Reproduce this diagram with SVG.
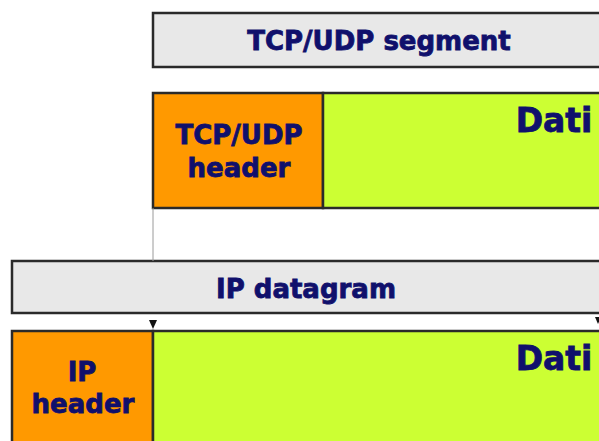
<svg xmlns="http://www.w3.org/2000/svg" width="599" height="441" viewBox="0 0 599 441">
  <defs>
    <style>
      .bar { fill: #e8e8e8; stroke: #2a2a2a; stroke-width: 2.5; }
      .hdr { fill: #ff9900; stroke: #2a2a2a; stroke-width: 2.5; }
      .data { fill: #ccff33; stroke: #2a2a2a; stroke-width: 2.5; }
      .lbl { font-family: "DejaVu Sans", Verdana, sans-serif; font-weight: bold; fill: #10106c; stroke: #10106c; stroke-width: 0.8; text-anchor: middle; }
      .guide { stroke: #9a9a9a; stroke-width: 1; fill: none; }
      .tip { fill: #111111; }
    </style>
  </defs>
  <rect width="599" height="441" fill="#ffffff"/>

  <!-- transport layer -->
  <g id="tcp-segment">
    <rect class="bar" x="153" y="13" width="460" height="54"/>
    <text class="lbl" x="379" y="50" font-size="26">TCP/UDP segment</text>
  </g>
  <g id="tcp-header">
    <rect class="hdr" x="153" y="93" width="170" height="115"/>
    <text class="lbl" x="239" y="144" font-size="26">TCP/UDP</text>
    <text class="lbl" x="239" y="177" font-size="26">header</text>
  </g>
  <g id="tcp-data">
    <rect class="data" x="323" y="93" width="290" height="115"/>
    <text class="lbl" x="554" y="132" font-size="33">Dati</text>
  </g>

  <!-- network layer -->
  <g id="ip-datagram">
    <rect class="bar" x="12" y="261" width="601" height="52"/>
    <text class="lbl" x="306" y="298" font-size="26">IP datagram</text>
  </g>
  <g id="ip-header">
    <rect class="hdr" x="12" y="331" width="141" height="130"/>
    <text class="lbl" x="82" y="381" font-size="26">IP</text>
    <text class="lbl" x="83" y="413" font-size="26">header</text>
  </g>
  <g id="ip-data">
    <rect class="data" x="153" y="331" width="460" height="130"/>
    <text class="lbl" x="554" y="370" font-size="33">Dati</text>
  </g>

  <g id="connectors">
    <line class="guide" x1="153" y1="208" x2="153" y2="261"/>
    <polygon class="tip" points="149,320 157,320 153,329"/>
    <polygon class="tip" points="595,317 601,317 598,324"/>
  </g>
</svg>
